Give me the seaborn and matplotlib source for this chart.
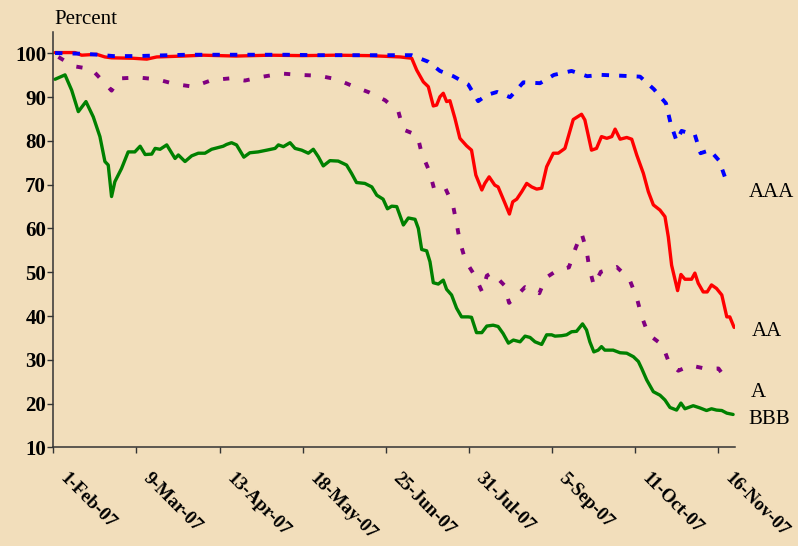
import matplotlib
matplotlib.use("Agg")
import matplotlib.pyplot as plt
import matplotlib.transforms as mtrans
import seaborn as sns

# ---- data (x = business-day index from 1-Feb-07) ----
tick_days = [0, 25, 50, 75, 100, 125, 150, 175, 200]
tick_labels = ["1-Feb-07", "9-Mar-07", "13-Apr-07", "18-May-07", "25-Jun-07",
               "31-Jul-07", "5-Sep-07", "11-Oct-07", "16-Nov-07"]
y_ticks = [10, 20, 30, 40, 50, 60, 70, 80, 90, 100]

aaa_day = [0.5, 5, 10, 15, 18, 22, 25, 30, 35, 40,
           50, 60, 70, 80, 90, 100, 107.8, 112.8, 116.3, 120.3,
           124.8, 127.8, 130.4, 133.5, 137.4, 141.4, 146.4, 150.6, 155.9, 160.6,
           164.9, 171.0, 176.5, 180.7, 184.3, 185.7, 187.5, 189.0, 193.0, 194.7,
           197.5, 200.3, 202.3, 203.5]
aaa_val = [100.1, 100.0, 99.9, 99.6, 99.4, 99.4, 99.4, 99.5, 99.6, 99.7,
           99.7, 99.7, 99.7, 99.6, 99.6, 99.6, 99.6, 98.1, 96.0, 94.8,
           92.9, 89.1, 90.5, 91.2, 90.0, 93.4, 93.2, 95.1, 96.0, 94.8,
           95.1, 94.9, 94.7, 91.8, 88.6, 84.0, 80.0, 82.3, 81.4, 77.2,
           77.9, 75.5, 71.2, 70.0]

aa_day = [0.5, 6.5, 8.5, 13.0, 15.5, 17.5, 23.9, 28.1, 31.1, 39.0,
          45, 55, 65, 75, 85, 95, 104.3, 107.8, 109.3, 111.3,
          112.8, 114.3, 115.3, 116.3, 117.3, 118.3, 119.3, 120.8, 122.3, 124.3,
          125.8, 127.1, 128.9, 129.8, 131.1, 132.8, 133.8, 135.9, 137.2, 138.2,
          139.4, 140.9, 142.4, 143.9, 145.4, 146.9, 148.4, 150.4, 151.9, 153.9,
          156.4, 158.9, 159.9, 161.9, 163.4, 164.9, 166.5, 168.0, 169.0, 170.5,
          172.5, 174.0, 175.5, 177.5, 179.0, 180.5, 182.5, 184.0, 185.0, 186.0,
          187.8, 188.8, 190.0, 192.0, 193.0, 194.0, 195.5, 196.7, 198.0, 199.5,
          201.1, 202.6, 203.5, 204.8]
aa_val = [100.2, 100.2, 99.6, 99.8, 99.2, 99.0, 98.9, 98.7, 99.2, 99.4,
          99.6, 99.4, 99.6, 99.5, 99.6, 99.5, 99.2, 98.9, 96.2, 93.5,
          92.4, 88.0, 88.2, 90.1, 90.9, 89.0, 89.2, 85.2, 80.6, 78.9,
          77.9, 72.2, 68.8, 70.3, 71.8, 69.9, 69.5, 65.7, 63.3, 66.1,
          66.7, 68.4, 70.3, 69.5, 69.0, 69.2, 74.1, 77.2, 77.2, 78.3,
          84.9, 86.1, 84.8, 77.9, 78.3, 81.0, 80.6, 81.0, 82.7, 80.4,
          80.8, 80.4, 76.8, 72.6, 68.4, 65.4, 64.2, 62.7, 58.1, 51.6,
          45.8, 49.5, 48.4, 48.4, 49.8, 47.5, 45.5, 45.5, 47.1, 46.3,
          44.8, 39.8, 39.8, 37.4]

a_day = [1.5, 6.0, 11.5, 15.2, 17.5, 20.0, 25.5, 31.1, 36.6, 42.1,
         47.6, 53.1, 57.6, 63.1, 68.7, 74.2, 79.9, 85.2, 90.2, 95.0,
         99.8, 103.8, 105.3, 109.5, 110.8, 113.1, 114.6, 117.8, 120.2, 121.3,
         122.3, 124.0, 126.8, 129.0, 130.4, 132.0, 135.7, 137.1, 139.1, 141.9,
         146.2, 148.1, 151.7, 155.1, 157.1, 158.9, 160.4, 161.2, 162.6, 164.7,
         169.5, 173.3, 175.5, 177.0, 179.0, 183.2, 185.3, 188.0, 191.7, 196.0,
         200.1, 203.3]
a_val = [99.2, 97.1, 96.4, 93.4, 91.5, 94.3, 94.5, 94.1, 93.0, 92.4,
         93.9, 94.3, 93.8, 94.7, 95.4, 95.1, 94.9, 94.1, 92.5, 91.1,
         89.3, 86.7, 82.6, 81.3, 77.2, 73.1, 68.9, 69.4, 65.4, 61.2,
         57.0, 52.6, 49.2, 45.5, 49.2, 49.9, 47.0, 43.0, 44.4, 46.6,
         45.2, 48.7, 50.5, 51.1, 55.5, 58.9, 55.1, 51.1, 47.0, 50.1,
         51.2, 48.4, 44.2, 39.9, 35.8, 33.4, 29.2, 27.5, 28.7, 28.0,
         28.0, 24.7]

bbb_day = [0.5, 3.5, 5.5, 7.5, 9.8, 12.0, 14.0, 15.5, 16.5, 17.5,
           18.5, 20.5, 22.5, 24.5, 26.1, 27.6, 29.6, 30.6, 32.1, 34.1,
           36.6, 37.6, 39.6, 41.6, 43.6, 45.6, 47.6, 49.6, 51.1, 52.1,
           53.6, 55.1, 57.3, 59.1, 61.6, 64.2, 66.7, 67.7, 69.2, 71.2,
           72.7, 74.7, 76.7, 78.2, 79.7, 81.2, 83.2, 85.7, 88.2, 89.7,
           91.2, 93.7, 95.8, 97.3, 99.2, 100.5, 101.8, 103.3, 105.3, 106.8,
           108.8, 109.8, 110.8, 112.3, 113.3, 114.3, 115.8, 117.3, 118.3, 119.8,
           121.3, 122.8, 124.8, 125.8, 127.3, 128.9, 130.4, 132.3, 133.8, 135.3,
           136.9, 138.4, 140.4, 141.9, 143.4, 144.9, 146.9, 148.4, 149.9, 150.9,
           152.9, 154.4, 155.9, 157.4, 159.2, 160.4, 161.4, 162.6, 163.9, 164.9,
           165.9, 168.4, 170.5, 172.5, 174.5, 176.0, 177.0, 178.5, 180.5, 182.5,
           184.0, 185.5, 187.5, 188.8, 190.0, 192.5, 194.5, 196.5, 198.0, 199.5,
           201.1, 202.6, 204.5]
bbb_val = [94.1, 95.1, 91.6, 86.7, 89.0, 85.5, 81.0, 75.3, 74.5, 67.3,
           70.7, 73.7, 77.5, 77.5, 78.8, 76.9, 77.0, 78.3, 78.1, 79.1,
           76.0, 76.8, 75.3, 76.6, 77.2, 77.2, 78.1, 78.5, 78.8, 79.2,
           79.6, 79.1, 76.3, 77.3, 77.5, 77.9, 78.3, 79.1, 78.7, 79.6,
           78.3, 77.9, 77.2, 78.1, 76.4, 74.3, 75.5, 75.4, 74.5, 72.6,
           70.5, 70.3, 69.5, 67.6, 66.7, 64.5, 65.1, 65.0, 60.8, 62.4,
           62.1, 60.0, 55.2, 54.9, 52.4, 47.6, 47.3, 48.2, 46.1, 44.8,
           41.8, 39.8, 39.8, 39.7, 36.2, 36.2, 37.7, 37.9, 37.6, 36.0,
           33.8, 34.5, 34.1, 35.4, 35.1, 34.1, 33.5, 35.7, 35.7, 35.4,
           35.5, 35.7, 36.4, 36.5, 38.2, 36.8, 34.1, 31.8, 32.2, 33.0,
           32.2, 32.2, 31.6, 31.5, 30.7, 29.6, 28.0, 25.4, 22.7, 21.9,
           20.8, 19.1, 18.5, 20.1, 18.8, 19.5, 19.0, 18.4, 18.8, 18.5,
           18.4, 17.8, 17.5]

series_names = ["BBB", "A", "AA", "AAA"]
label_pos = [(209.1, 15.3), (209.8, 21.5), (210.1, 35.4), (209.3, 67.2)]

# ---- styling ----
bg = "#F2DEBB"
sns.set_theme(style="white")
plt.rcParams["font.family"] = ["Liberation Serif", "DejaVu Serif"]

fig = plt.figure(figsize=(7.98, 5.46), dpi=100, facecolor=bg)
ax = fig.add_axes([0.0669, 0.1808, 0.8547, 0.7606])
ax.set_facecolor(bg)

styles = {
    "BBB": dict(color="#008000", lw=2.4, dashes=None),
    "A": dict(color="#800080", lw=2.8, dashes=(1.6, 3.7)),
    "AA": dict(color="#FF0000", lw=2.4, dashes=None),
    "AAA": dict(color="#0000FF", lw=2.8, dashes=(1.9, 2.6)),
}
data = {"BBB": (bbb_day, bbb_val), "A": (a_day, a_val),
        "AA": (aa_day, aa_val), "AAA": (aaa_day, aaa_val)}

for name in series_names:
    d, v = data[name]
    st = styles[name]
    sns.lineplot(x=d, y=v, ax=ax, color=st["color"], linewidth=st["lw"],
                 estimator=None, sort=False, legend=False)
    line = ax.lines[-1]
    if st["dashes"] is not None:
        line.set_dashes(st["dashes"])
        line.set_dash_capstyle("butt")
    line.set_solid_joinstyle("round")

ax.set_xlim(0, 205.2)
ax.set_ylim(10, 104.9)
ax.set_yticks(y_ticks)
ax.set_yticklabels([str(t) for t in y_ticks], fontsize=15, fontweight="bold",
                   color="black")
ax.set_xticks(tick_days)
ax.set_xticklabels(tick_labels, fontsize=13.5, fontweight="bold", rotation=-45,
                   ha="left", va="top", rotation_mode="anchor", color="black")
ax.tick_params(axis="both", direction="out", length=4.3, width=1.0,
               color="#333333", bottom=True, left=True)
ax.tick_params(axis="y", pad=1)
ax.tick_params(axis="x", pad=0)
offset = mtrans.ScaledTranslation(15.5 / 100, -17 / 100, fig.dpi_scale_trans)
for lab in ax.get_xticklabels():
    lab.set_transform(lab.get_transform() + offset)

for s in ["top", "right"]:
    ax.spines[s].set_visible(False)
for s in ["left", "bottom"]:
    ax.spines[s].set_color("#333333")
    ax.spines[s].set_linewidth(1.1)
ax.set_xlabel("")
ax.set_ylabel("")
ax.grid(False)

for name, (lx, ly) in zip(series_names, label_pos):
    ax.text(lx, ly, name, fontsize=15, ha="left", va="baseline",
            color="black", clip_on=False)

fig.text(54 / 798, 1 - 24 / 546, "Percent", fontsize=15, ha="left",
         va="baseline", color="black")

fig.savefig("out.png", dpi=100, facecolor=bg)
